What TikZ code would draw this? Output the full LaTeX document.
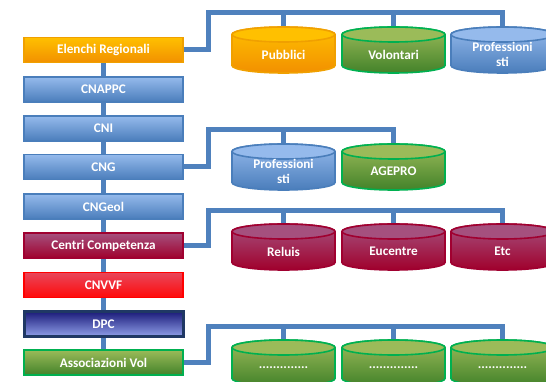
\documentclass[tikz,border=0pt]{standalone}
\usepackage{fontspec}
\setmainfont{Carlito}
\usetikzlibrary{backgrounds,calc}
\definecolor{conn}{HTML}{4F81BD}
\definecolor{bluetop}{HTML}{95BAEC}
\definecolor{bluebot}{HTML}{4A7DBB}
\definecolor{bluebd}{HTML}{4A7EBB}
\definecolor{orangetop}{HTML}{FFC000}
\definecolor{orangebot}{HTML}{F29000}
\definecolor{orangebd}{HTML}{F0A000}
\definecolor{greentop}{HTML}{9BBB59}
\definecolor{greenbot}{HTML}{43822A}
\definecolor{greenbd}{HTML}{00B050}
\definecolor{crimtop}{HTML}{A5507E}
\definecolor{crimbot}{HTML}{A0002C}
\definecolor{crimbd}{HTML}{A00030}
\definecolor{redtop}{HTML}{E8465A}
\definecolor{redbot}{HTML}{FF0A0A}
\definecolor{redbd}{HTML}{FF0000}
\definecolor{navytop}{HTML}{1A1A78}
\definecolor{navybot}{HTML}{90A0EA}
\definecolor{navybd}{HTML}{1F3864}
\tikzset{
  box/.style={rectangle, minimum width=159pt, minimum height=25pt, inner sep=0pt,
    line width=1.2pt, text=white, font=\bfseries\fontsize{13.2}{15}\selectfont},
  bluebox/.style={box, draw=bluebd, top color=bluetop, bottom color=bluebot},
  orangebox/.style={box, draw=orangebd, top color=orangetop, bottom color=orangebot},
  greenbox/.style={box, draw=greenbd, line width=1.5pt, top color=greentop, bottom color=greenbot},
  crimbox/.style={box, draw=crimbd, top color=crimtop, bottom color=crimbot},
  redbox/.style={box, draw=redbd, top color=redtop, bottom color=redbot},
  navybox/.style={box, draw=navybd, line width=3pt, minimum height=25.5pt, top color=navytop, bottom color=navybot},
  cyltext/.style={text=white, align=center, inner sep=0pt, font=\bfseries\fontsize{13.2}{15}\selectfont},
  link/.style={line width=5pt, draw=conn, line join=miter, line cap=butt}
}
% #1 name, #2 cx, #3 y of top ellipse centre (px, downwards), #4 top colour, #5 bottom colour, #6 border, #7 text
\newcommand\mycyl[7]{%
  \draw[line width=1.6pt, draw=#6, top color=#4, bottom color=#5]
    (#2-51.5,-#3) -- (#2-51.5,-#3-31)
    arc[start angle=180, end angle=360, x radius=51.5pt, y radius=7.5pt]
    -- (#2+51.5,-#3)
    arc[start angle=0, end angle=180, x radius=51.5pt, y radius=7.5pt] -- cycle;
  \draw[line width=1.6pt, draw=#6, fill=#4] (#2,-#3) ellipse[x radius=51.5pt, y radius=7.5pt];
  \coordinate (#1t) at (#2,-#3+7.5);
  \node[cyltext] (#1) at (#2,-#3-20) {#7};
}
\begin{document}
\begin{tikzpicture}[x=1pt,y=1pt]
\useasboundingbox (0,0) rectangle (546,-382);
\clip (0,0) rectangle (546,-382);
% left column
\node[orangebox] (b1) at (103.5,-50) {Elenchi Regionali};
\node[bluebox] (b2) at (103.5,-89.5) {CNAPPC};
\node[bluebox] (b3) at (103.5,-128.5) {CNI};
\node[bluebox] (b4) at (103.5,-167) {CNG};
\node[bluebox] (b5) at (103.5,-206.5) {CNGeol};
\node[crimbox] (b6) at (103.5,-245.5) {Centri Competenza};
\node[redbox] (b7) at (103.5,-285) {CNVVF};
\node[navybox] (b8) at (103.5,-324) {DPC};
\node[greenbox] (b9) at (103.5,-362.5) {Associazioni Vol};
% cylinders
\mycyl{c11}{283.5}{34.5}{orangetop}{orangebot}{orangebd}{Pubblici}
\mycyl{c12}{393.5}{34.5}{greentop}{greenbot}{greenbd}{Volontari}
\mycyl{c13}{502.5}{34.5}{bluetop}{bluebot}{bluebd}{Professioni\\sti}
\mycyl{c21}{283.5}{151.5}{bluetop}{bluebot}{bluebd}{Professioni\\sti}
\mycyl{c22}{393.5}{151.5}{greentop}{greenbot}{greenbd}{AGEPRO}
\mycyl{c31}{283.5}{231.5}{crimtop}{crimbot}{crimbd}{Reluis}
\mycyl{c32}{393.5}{231.5}{crimtop}{crimbot}{crimbd}{Eucentre}
\mycyl{c33}{502.5}{231.5}{crimtop}{crimbot}{crimbd}{Etc}
\mycyl{c41}{283.5}{347.5}{greentop}{greenbot}{greenbd}{..............}
\mycyl{c42}{393.5}{347.5}{greentop}{greenbot}{greenbd}{..............}
\mycyl{c43}{502.5}{347.5}{greentop}{greenbot}{greenbd}{..............}
% connectors
\begin{scope}[on background layer]
  \draw[link] (b1) -- (b9);
  \draw[link] (b1.east) -- ++(24.5,0) |- ($(c13t)+(0,14.5)$) -- (c13t);
  \draw[link] (c11t) -- ++(0,14.5);
  \draw[link] (c12t) -- ++(0,14.5);
  \draw[link] (b4.east) -- ++(24.5,0) |- ($(c22t)+(0,14)$) -- (c22t);
  \draw[link] (c21t) -- ++(0,14);
  \draw[link] (b6.east) -- ++(24.5,0) |- ($(c33t)+(0,13)$) -- (c33t);
  \draw[link] (c31t) -- ++(0,13);
  \draw[link] (c32t) -- ++(0,13);
  \draw[link] (b9.east) -- ++(24.5,0) |- ($(c43t)+(0,14)$) -- (c43t);
  \draw[link] (c41t) -- ++(0,14);
  \draw[link] (c42t) -- ++(0,14);
\end{scope}
\end{tikzpicture}
\end{document}
